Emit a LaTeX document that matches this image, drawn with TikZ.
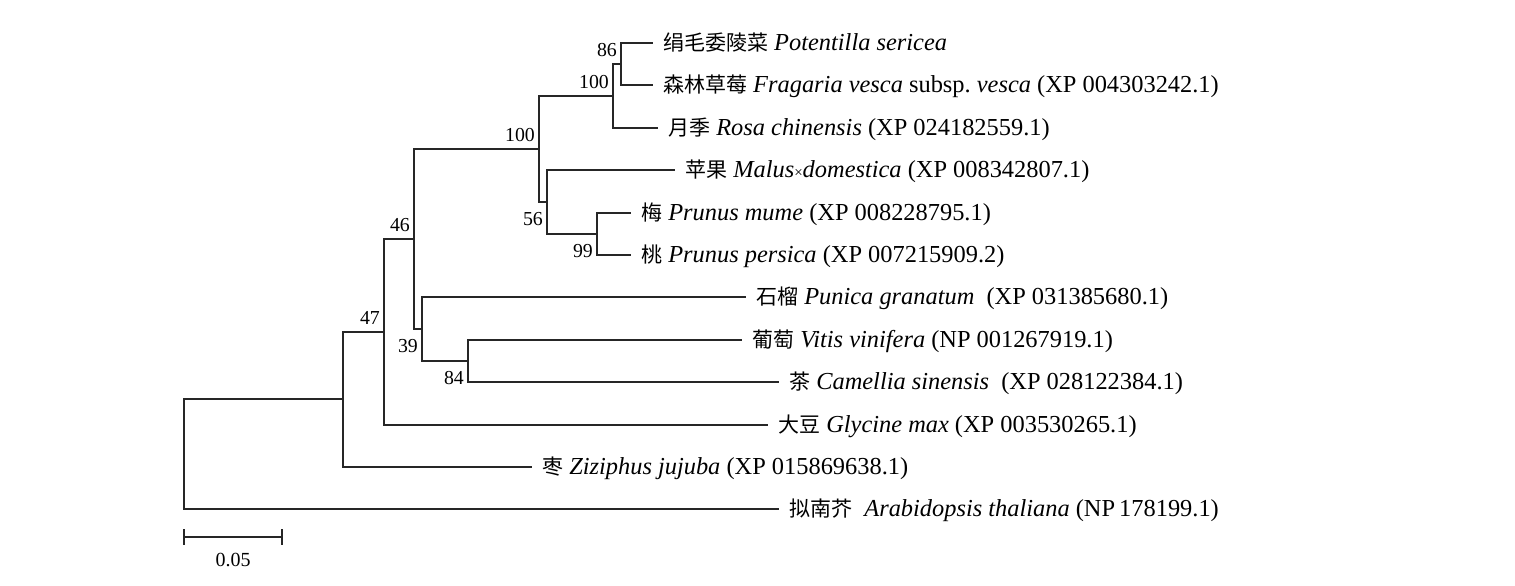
\documentclass[tikz,border=0pt]{standalone}
\usepackage{fontspec}
\setmainfont{Liberation Serif}
\newfontfamily\cjk[Scale=0.86]{Noto Sans CJK SC}
\usepackage{tikz}

\begin{document}
\begin{tikzpicture}[
    x=1pt, y=-1pt,
    branch/.style={line width=2pt, draw=black!85},
    leaf/.style={anchor=west, inner xsep=10pt, inner ysep=0pt, text height=15.8pt, text depth=0pt,
      font=\fontsize{24.4}{28}\selectfont},
    bootup/.style={anchor=south east, inner sep=0pt, xshift=-4pt, yshift=7pt,
      font=\fontsize{19.8}{22}\selectfont},
    bootdown/.style={anchor=north east, inner sep=0pt, xshift=-4pt, yshift=-10pt,
      font=\fontsize{19.8}{22}\selectfont}]
    \useasboundingbox (0,0) rectangle (1515,586);

    \coordinate (root) at (184,454);
    \coordinate (nz) at (343,399);
    \coordinate (n47) at (384,332);
    \coordinate (n46) at (414,239);
    \coordinate (n39) at (422,329);
    \coordinate (n84) at (468,361);
    \coordinate (n100) at (539,149);
    \coordinate (n56) at (547,202);
    \coordinate (n99) at (597,234);
    \coordinate (n100b) at (613,96);
    \coordinate (n86) at (621,64);

    \node[leaf] (potentilla) at (653,43) {{\cjk 绢毛委陵菜} \textit{Potentilla sericea}};
    \node[leaf] (fragaria) at (653,85) {{\cjk 森林草莓} \textit{Fragaria vesca} subsp.\ \textit{vesca} (XP 004303242.1)};
    \node[leaf] (rosa) at (658,128) {{\cjk 月季} \textit{Rosa chinensis} (XP 024182559.1)};
    \node[leaf] (malus) at (675,170) {{\cjk 苹果} \textit{Malus}{\fontsize{15}{15}\selectfont ×}\textit{domestica} (XP 008342807.1)};
    \node[leaf] (mume) at (631,213) {{\cjk 梅} \textit{Prunus mume} (XP 008228795.1)};
    \node[leaf] (persica) at (631,255) {{\cjk 桃} \textit{Prunus persica} (XP 007215909.2)};
    \node[leaf] (punica) at (746,297) {{\cjk 石榴} \textit{Punica granatum}\ \ (XP 031385680.1)};
    \node[leaf] (vitis) at (742,340) {{\cjk 葡萄} \textit{Vitis vinifera} (NP 001267919.1)};
    \node[leaf] (camellia) at (779,382) {{\cjk 茶} \textit{Camellia sinensis}\ \ (XP 028122384.1)};
    \node[leaf] (glycine) at (768,425) {{\cjk 大豆} \textit{Glycine max} (XP 003530265.1)};
    \node[leaf] (ziziphus) at (532,467) {{\cjk 枣} \textit{Ziziphus jujuba} (XP 015869638.1)};
    \node[leaf] (arabidopsis) at (779,509) {{\cjk 拟南芥}\ \ \textit{Arabidopsis thaliana} (NP\,178199.1)};

    \draw[branch] (root) |- (nz);
    \draw[branch] (root) |- (arabidopsis.west);
    \draw[branch] (nz) |- (n47);
    \draw[branch] (nz) |- (ziziphus.west);
    \draw[branch] (n47) |- (n46);
    \draw[branch] (n47) |- (glycine.west);
    \draw[branch] (n46) |- (n100);
    \draw[branch] (n46) |- (n39);
    \draw[branch] (n39) |- (punica.west);
    \draw[branch] (n39) |- (n84);
    \draw[branch] (n84) |- (vitis.west);
    \draw[branch] (n84) |- (camellia.west);
    \draw[branch] (n100) |- (n100b);
    \draw[branch] (n100) |- (n56);
    \draw[branch] (n100b) |- (n86);
    \draw[branch] (n100b) |- (rosa.west);
    \draw[branch] (n86) |- (potentilla.west);
    \draw[branch] (n86) |- (fragaria.west);
    \draw[branch] (n56) |- (malus.west);
    \draw[branch] (n56) |- (n99);
    \draw[branch] (n99) |- (mume.west);
    \draw[branch] (n99) |- (persica.west);

    \node[bootup] (b86) at (n86) {86};
    \node[bootup] (b100b) at (n100b) {100};
    \node[bootup] (b100) at (n100) {100};
    \node[bootup] (b46) at (n46) {46};
    \node[bootup] (b47) at (n47) {47};
    \node[bootdown] (b56) at (n56) {56};
    \node[bootdown] (b99) at (n99) {99};
    \node[bootdown] (b39) at (n39) {39};
    \node[bootdown] (b84) at (n84) {84};

    \draw[branch] (184,529) -- (184,545) (184,537) -- (282,537) (282,529) -- (282,545);
    \node[inner sep=0pt, font=\fontsize{20}{22}\selectfont] (scale) at (233,560) {0.05};
  \end{tikzpicture}
\end{document}
